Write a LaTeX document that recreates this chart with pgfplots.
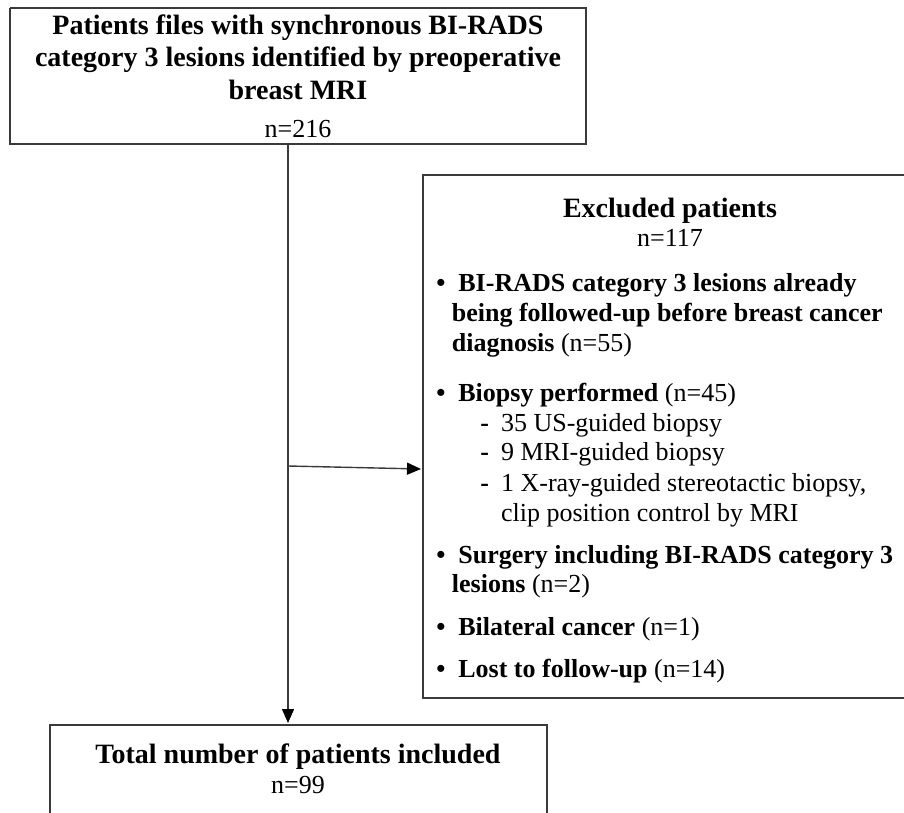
\documentclass[border=0pt]{standalone}
\usepackage{pgfplots}
\pgfplotsset{compat=1.18}
\usepackage{fontspec}
\setmainfont{Liberation Serif}
\usetikzlibrary{arrows.meta}
\definecolor{boxc}{HTML}{3A3A3A}
\begin{document}
\begin{tikzpicture}
\useasboundingbox (0,0) rectangle (452pt,406.5pt);
\begin{axis}[at={(0,0)},anchor=south west,scale only axis,width=452pt,height=406.5pt,
  xmin=0,xmax=904,ymin=0,ymax=813,y dir=reverse,axis lines=none,clip=false]
% boxes
\addplot[draw=boxc,line width=1pt,line join=miter] coordinates {(10,8) (586,8) (586,144) (10,144) (10,8)};
\addplot[draw=boxc,line width=1pt,line join=miter] coordinates {(904,175) (422.5,175) (422.5,698) (904,698)};
\addplot[draw=boxc,line width=1pt,line join=miter] coordinates {(49.6,813) (49.6,725) (547,725) (547,813)};
% arrows
\addplot[draw=boxc,line width=0.7pt,-{Triangle[length=7pt,width=6pt,color=black]}] coordinates {(288,144) (288,723)};
\addplot[draw=boxc,line width=0.7pt,-{Triangle[length=7pt,width=6pt,color=black]}] coordinates {(288,466) (421,469)};
% top box text
\begin{scope}[every node/.style={inner sep=0pt,anchor=base,font=\fontsize{14}{16}\selectfont\bfseries}]
\node at (axis cs:298,35) {Patients files with synchronous BI-RADS};
\node at (axis cs:298,67) {category 3 lesions identified by preoperative};
\node at (axis cs:298,100) {breast MRI};
\node at (axis cs:670,217.7) {Excluded patients};
\node at (axis cs:298,763.3) {Total number of patients included};
\end{scope}
\begin{scope}[every node/.style={inner sep=0pt,anchor=base,font=\fontsize{13}{15}\selectfont}]
\node at (axis cs:298,137.3) {n=216};
\node at (axis cs:670,246) {n=117};
\node at (axis cs:298,793.3) {n=99};
\end{scope}
% bullets
\begin{scope}[every node/.style={inner sep=0pt,anchor=base west,font=\fontsize{13}{15}\selectfont}]
\node at (axis cs:436,291) {\textbf{\textbullet}};
\node at (axis cs:458,291) {\textbf{BI-RADS category 3 lesions already}};
\node at (axis cs:451.5,321.7) {\textbf{being followed-up before breast cancer}};
\node at (axis cs:451.5,351) {\textbf{diagnosis} (n=55)};
\node at (axis cs:436,401.7) {\textbf{\textbullet}};
\node at (axis cs:458,401.7) {\textbf{Biopsy performed} (n=45)};
\node at (axis cs:480,431) {\textbf{-}};
\node at (axis cs:500.7,431) {35 US-guided biopsy};
\node at (axis cs:480,460) {\textbf{-}};
\node at (axis cs:500.7,460) {9 MRI-guided biopsy};
\node at (axis cs:480,491) {\textbf{-}};
\node at (axis cs:500.7,491) {1 X-ray-guided stereotactic biopsy,};
\node at (axis cs:500.7,521) {clip position control by MRI};
\node at (axis cs:436,563.3) {\textbf{\textbullet}};
\node at (axis cs:458,563.3) {\textbf{Surgery including BI-RADS category 3}};
\node at (axis cs:451.5,592.7) {\textbf{lesions} (n=2)};
\node at (axis cs:436,635) {\textbf{\textbullet}};
\node at (axis cs:458,635) {\textbf{Bilateral cancer} (n=1)};
\node at (axis cs:436,677.7) {\textbf{\textbullet}};
\node at (axis cs:458,677.7) {\textbf{Lost to follow-up} (n=14)};
\end{scope}
\end{axis}
\end{tikzpicture}
\end{document}
